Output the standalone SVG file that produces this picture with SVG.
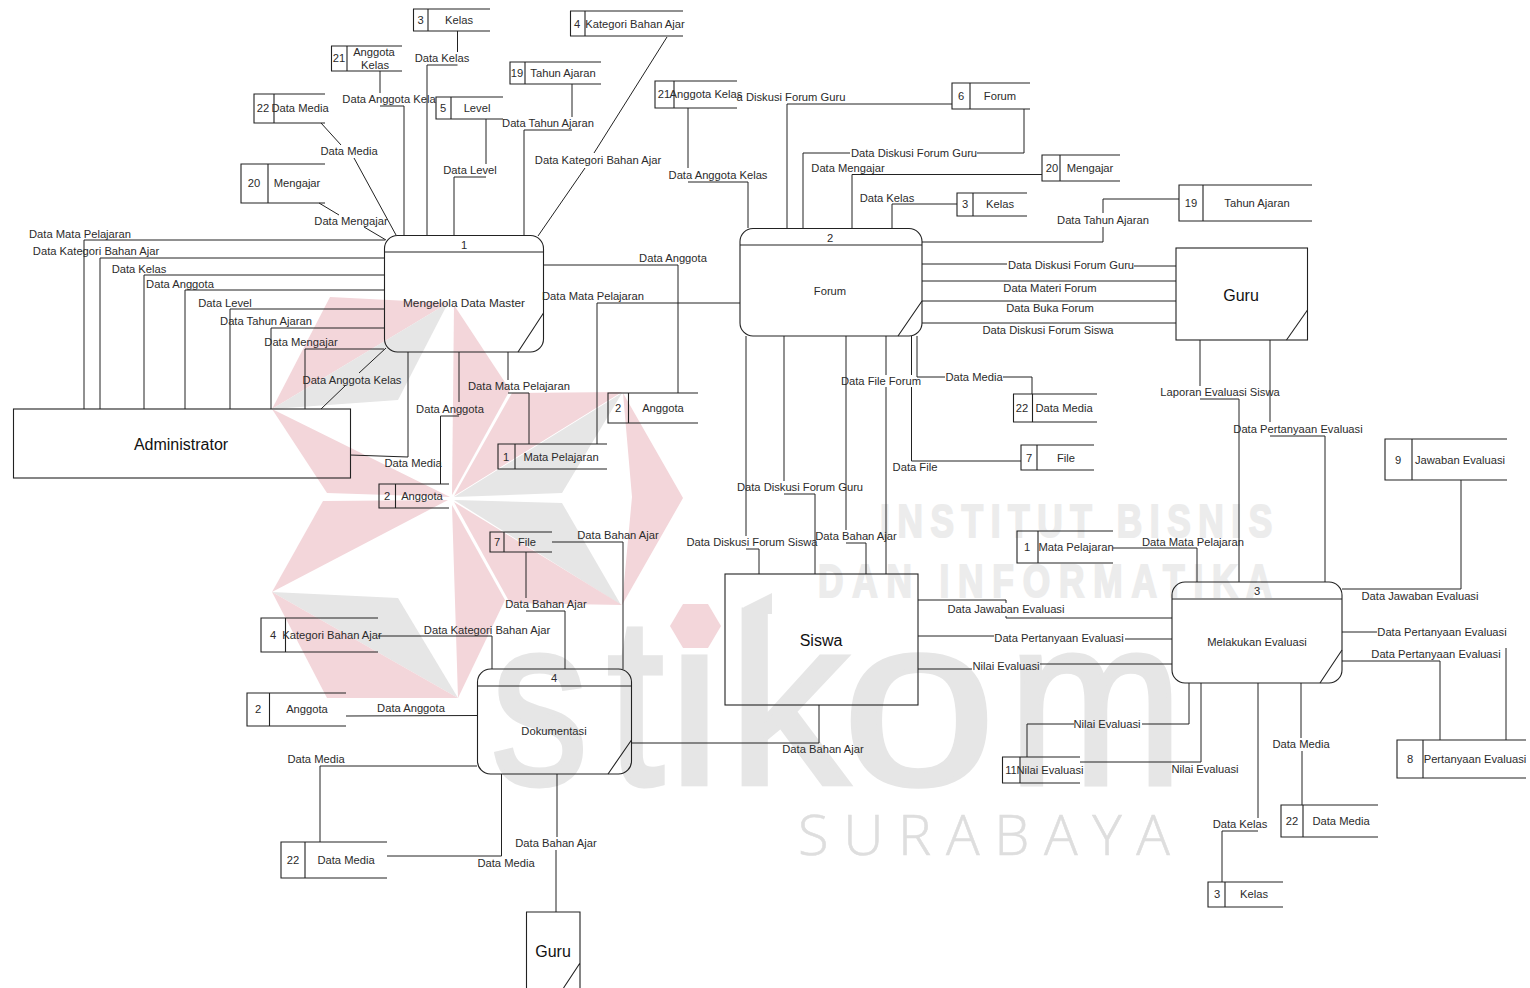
<svg xmlns="http://www.w3.org/2000/svg" width="1530" height="988" viewBox="0 0 1530 988">
<style>
text{font-family:"Liberation Sans",Arial,sans-serif;font-size:11.2px;fill:#2b2b2b;text-anchor:middle;dominant-baseline:central}
.n{fill:none;stroke:#222;stroke-width:1.1}
.c{fill:none;stroke:#222;stroke-width:1}
.big{font-size:16px;fill:#111}
.p{fill:#f3d6da}.g{fill:#e6e6e6}
.w1{font-weight:bold;font-size:47px;fill:#ececec;stroke:#ececec;stroke-width:2;dominant-baseline:auto;text-anchor:start}
.w2{font-family:"Open Sans","Liberation Sans",sans-serif;font-weight:300;font-size:56px;fill:#dedede;stroke:#dedede;stroke-width:.6;dominant-baseline:auto;text-anchor:start}
.w3{font-size:240px;fill:#e6e6e6;stroke:#e6e6e6;stroke-width:5;dominant-baseline:auto;text-anchor:start}
</style>
<rect width="1530" height="988" fill="#fff"/>
<g id="watermark">
<polygon class="p" points="330,297 448,303 272,409"/>
<polygon class="g" points="272,409 448,303 398,400"/>
<polygon class="p" points="272,409 327,493 450,497"/>
<polygon class="p" points="454,305 510,390 452,495"/>
<polygon class="p" points="512,393 622,392 454,496"/>
<polygon class="g" points="622,393 562,493 454,497"/>
<polygon class="p" points="623,393 683,498 622,605 632,497"/>
<polygon class="g" points="454,500 562,503 621,605"/>
<polygon class="p" points="454,502 622,605 510,603"/>
<polygon class="p" points="452,505 505,600 458,698"/>
<polygon class="g" points="272,592 398,598 458,698"/>
<polygon class="p" points="272,592 458,698 327,698"/>
<polygon class="p" points="448,500 323,501 272,592"/>
<text class="w1" transform="translate(880,537) scale(.75,1)" textLength="523" lengthAdjust="spacing">INSTITUT BISNIS</text>
<text class="w1" transform="translate(818,597) scale(.75,1)" textLength="605" lengthAdjust="spacing">DAN INFORMATIKA</text>
<text class="w2" x="798" y="855" textLength="372" lengthAdjust="spacing">SURABAYA</text>
<text class="w3" y="784"><tspan x="491" textLength="97" lengthAdjust="spacingAndGlyphs">s</tspan><tspan x="607" textLength="57" lengthAdjust="spacingAndGlyphs">t</tspan><tspan x="668" textLength="53" lengthAdjust="spacingAndGlyphs">i</tspan><tspan x="728" textLength="120" lengthAdjust="spacingAndGlyphs">k</tspan><tspan x="842" textLength="154" lengthAdjust="spacingAndGlyphs">o</tspan><tspan x="1008" textLength="175" lengthAdjust="spacingAndGlyphs">m</tspan></text>
<polygon class="g" points="744,614 772,614 772,593 744,607"/>
<polygon class="p" points="670,626 683,604 708,604 721,626 708,648 683,648"/>
</g>
<g id="connectors">
<path class="c" d="M84,409V240H385M100,409V258H384M144,409V275H384M185,409V290H384M230,409V309H384M271,409V328H384M305,409V349H384"/>
<path class="c" d="M321,409L346,385M359,373L386,348M350,455L408,457V352M459,352V402M459,416H440.500V484M508,352V380M508,393H529V444"/>
<path class="c" d="M544,265H678V393M597,444V303H740"/>
<path class="c" d="M319,203L339,215M364,227L386,240M321,123L341,145M354,158L396,235M380,71V93M380,106H404V235M457.500,31V52M457.500,65H427V235M486,119V164M486,177H454V235M572,84V117M572,130H524V235M667,37L594,153M585,168L538,236"/>
<path class="c" d="M688,108V168M688,182H748V228M787,228V104H952M1024,109V153H977M850,153H803V228M1042,174.500H852V228M957,204H892V228M1179,199H1103V213M1103,227V242H922"/>
<path class="c" d="M922,264H1007M1134,266H1176M922,281H1176M922,301H1176M922,323H1176"/>
<path class="c" d="M746,336V536M746,549H759V574M784,336V481M784,494H815V574M846,336V530M846,543H866V574M886,336V375M886,387V574M911.500,336V375M911.500,387V461H1021M917,336V377H945M1003,377H1032V394"/>
<path class="c" d="M1200,340V386M1200,399H1239V582M1270,340V422M1270,436H1325V582"/>
<path class="c" d="M1113,548H1197V582M1342,589H1461V480M1342,632H1377M1506,648V740M1342,661H1440V740M1189,683V724H1142M1074,724H1027V757M1201,683V762H1080M1258,683V818M1258,831H1222V882M1301,683V738M1302,751V805"/>
<path class="c" d="M918,600H1006V603M1006,616V618H1172M918,636H994M1125,639H1172M918,669H972M1040,664H1172"/>
<path class="c" d="M378,636H492V669M526,552V598M526,611H565V669M552,542H623V669M346,716L477,715.500M320,842V766H477M387,856H501.500V774M557,774V837M556,850V912M632,743H819V705"/>
<text x="80" y="234">Data Mata Pelajaran</text>
<text x="96" y="251">Data Kategori Bahan Ajar</text>
<text x="139" y="269">Data Kelas</text>
<text x="180" y="284">Data Anggota</text>
<text x="225" y="303">Data Level</text>
<text x="266" y="321">Data Tahun Ajaran</text>
<text x="301" y="342">Data Mengajar</text>
<text x="352" y="380">Data Anggota Kelas</text>
<text x="413" y="463">Data Media</text>
<text x="450" y="409">Data Anggota</text>
<text x="519" y="386">Data Mata Pelajaran</text>
<text x="673" y="258">Data Anggota</text>
<text x="593" y="296">Data Mata Pelajaran</text>
<text x="351" y="221">Data Mengajar</text>
<text x="349" y="151">Data Media</text>
<text x="389" y="99">Data Anggota Kela</text>
<text x="442" y="58">Data Kelas</text>
<text x="470" y="170">Data Level</text>
<text x="548" y="123">Data Tahun Ajaran</text>
<text x="598" y="160">Data Kategori Bahan Ajar</text>
<text x="718" y="175">Data Anggota Kelas</text>
<text x="791" y="97">a Diskusi Forum Guru</text>
<text x="914" y="153">Data Diskusi Forum Guru</text>
<text x="848" y="168">Data Mengajar</text>
<text x="887" y="198">Data Kelas</text>
<text x="1103" y="220">Data Tahun Ajaran</text>
<text x="1071" y="265">Data Diskusi Forum Guru</text>
<text x="1050" y="288">Data Materi Forum</text>
<text x="1050" y="308">Data Buka Forum</text>
<text x="1048" y="330">Data Diskusi Forum Siswa</text>
<text x="752" y="542">Data Diskusi Forum Siswa</text>
<text x="800" y="487">Data Diskusi Forum Guru</text>
<text x="856" y="536">Data Bahan Ajar</text>
<text x="881" y="381">Data File Forum</text>
<text x="974" y="377">Data Media</text>
<text x="915" y="467">Data File</text>
<text x="1220" y="392">Laporan Evaluasi Siswa</text>
<text x="1298" y="429">Data Pertanyaan Evaluasi</text>
<text x="1193" y="542">Data Mata Pelajaran</text>
<text x="1420" y="596">Data Jawaban Evaluasi</text>
<text x="1442" y="632">Data Pertanyaan Evaluasi</text>
<text x="1436" y="654">Data Pertanyaan Evaluasi</text>
<text x="1107" y="724">Nilai Evaluasi</text>
<text x="1205" y="769">Nilai Evaluasi</text>
<text x="1240" y="824">Data Kelas</text>
<text x="1301" y="744">Data Media</text>
<text x="1006" y="609">Data Jawaban Evaluasi</text>
<text x="1059" y="638">Data Pertanyaan Evaluasi</text>
<text x="1006" y="666">Nilai Evaluasi</text>
<text x="487" y="630">Data Kategori Bahan Ajar</text>
<text x="546" y="604">Data Bahan Ajar</text>
<text x="618" y="535">Data Bahan Ajar</text>
<text x="411" y="708">Data Anggota</text>
<text x="316" y="759">Data Media</text>
<text x="506" y="863">Data Media</text>
<text x="556" y="843">Data Bahan Ajar</text>
<text x="823" y="749">Data Bahan Ajar</text>
</g>
<g id="p1"><rect class="n" x="384.500" y="235.500" width="159" height="116.500" rx="13"/><path class="n" d="M384.500,252H543.500M518,352L543.500,313"/><text x="464" y="245">1</text><text x="464" y="303" style="font-size:11.800px">Mengelola Data Master</text></g>
<g id="p2"><rect class="n" x="740" y="228.500" width="182" height="107.500" rx="13"/><path class="n" d="M740,245H922M898,336L922,301"/><text x="830" y="238">2</text><text x="830" y="291">Forum</text></g>
<g id="p3"><rect class="n" x="1172" y="582" width="170" height="101" rx="13"/><path class="n" d="M1172,599H1342M1320,683L1342,650"/><text x="1257" y="591">3</text><text x="1257" y="642">Melakukan Evaluasi</text></g>
<g id="p4"><rect class="n" x="477.500" y="669" width="154" height="105" rx="13"/><path class="n" d="M477.500,686H631.500M608,774L631.500,740"/><text x="554" y="678">4</text><text x="554" y="731">Dokumentasi</text></g>
<g id="e-admin"><rect class="n" x="13.500" y="409" width="337" height="69"/><text class="big" x="181" y="444">Administrator</text></g>
<g id="e-guru1"><rect class="n" x="1176" y="248" width="131.500" height="92"/><path class="n" d="M1286.500,340L1307.500,310"/><text class="big" x="1241" y="295">Guru</text></g>
<g id="e-siswa"><rect class="n" x="725" y="574" width="193" height="131"/><text class="big" x="821" y="640">Siswa</text></g>
<g id="e-guru2"><path class="n" d="M526.500,988V912H580V988M580,963L563.500,988"/><text class="big" x="553" y="951">Guru</text></g>
<g id="s1"><path class="n" d="M490,9H413.500V31H490M428,9V31"/><text x="420.500" y="20">3</text><text x="459" y="20">Kelas</text></g>
<g id="s2"><path class="n" d="M683,11H570.500V36H683M585,11V36"/><text x="577" y="24">4</text><text x="635" y="24">Kategori Bahan Ajar</text></g>
<g id="s3"><path class="n" d="M402,46H331.500V71H402M347,46V71"/><text x="339" y="58">21</text><text x="374" y="52">Anggota</text><text x="375" y="65">Kelas</text></g>
<g id="s4"><path class="n" d="M601,62H510V84H601M525,62V84"/><text x="517" y="73">19</text><text x="563" y="73">Tahun Ajaran</text></g>
<g id="s5"><path class="n" d="M503,97H436V119H503M451,97V119"/><text x="443" y="108">5</text><text x="477" y="108">Level</text></g>
<g id="s6"><path class="n" d="M325,94H254V123H325M274,94V123"/><text x="263" y="108">22</text><text x="300" y="108">Data Media</text></g>
<g id="s7"><path class="n" d="M325,164H241V203H325M268,164V203"/><text x="254" y="183">20</text><text x="297" y="183">Mengajar</text></g>
<g id="s8"><path class="n" d="M737,81H655V108H737M674,81V108"/><text x="664" y="94">21</text><text x="706" y="94">Anggota Kelas</text></g>
<g id="s9"><path class="n" d="M1030,83H952V109H1030M970,83V109"/><text x="961" y="96">6</text><text x="1000" y="96">Forum</text></g>
<g id="s10"><path class="n" d="M1120,155H1042V181H1120M1060,155V181"/><text x="1052" y="168">20</text><text x="1090" y="168">Mengajar</text></g>
<g id="s11"><path class="n" d="M1027,193H957V216H1027M973,193V216"/><text x="965" y="204">3</text><text x="1000" y="204">Kelas</text></g>
<g id="s12"><path class="n" d="M1312,185H1179V221H1312M1203,185V221"/><text x="1191" y="203">19</text><text x="1257" y="203">Tahun Ajaran</text></g>
<g id="s13"><path class="n" d="M1097,394H1013.500V422H1097M1032.500,394V422"/><text x="1022" y="408">22</text><text x="1064" y="408">Data Media</text></g>
<g id="s14"><path class="n" d="M1094,445H1021V470H1094M1037,445V470"/><text x="1029" y="458">7</text><text x="1066" y="458">File</text></g>
<g id="s15"><path class="n" d="M698,393H608V423H698M628.500,393V423"/><text x="618" y="408">2</text><text x="663" y="408">Anggota</text></g>
<g id="s16"><path class="n" d="M607,444H498V469H607M515,444V469"/><text x="506" y="457">1</text><text x="561" y="457">Mata Pelajaran</text></g>
<g id="s17"><path class="n" d="M449,484H379V508H449M395.500,484V508"/><text x="387" y="496">2</text><text x="422" y="496">Anggota</text></g>
<g id="s18"><path class="n" d="M552,532H490V552H552M504,532V552"/><text x="497" y="542">7</text><text x="527" y="542">File</text></g>
<g id="s19"><path class="n" d="M378,618H261V652H378M285.500,618V652"/><text x="273" y="635">4</text><text x="332" y="635">Kategori Bahan Ajar</text></g>
<g id="s20"><path class="n" d="M346,693H247V726H346M269.500,693V726"/><text x="258" y="709">2</text><text x="307" y="709">Anggota</text></g>
<g id="s21"><path class="n" d="M387,842H281V878H387M305,842V878"/><text x="293" y="860">22</text><text x="346" y="860">Data Media</text></g>
<g id="s22"><path class="n" d="M1113,531H1017V563H1113M1038,531V563"/><text x="1027" y="547">1</text><text x="1076" y="547">Mata Pelajaran</text></g>
<g id="s23"><path class="n" d="M1507,439H1385V480H1507M1412,439V480"/><text x="1398" y="460">9</text><text x="1460" y="460">Jawaban Evaluasi</text></g>
<g id="s24"><path class="n" d="M1526,740H1397V778H1526M1423,740V778"/><text x="1410" y="759">8</text><text x="1475" y="759">Pertanyaan Evaluasi</text></g>
<g id="s25"><path class="n" d="M1080,757H1002.500V783H1080M1020,757V783"/><text x="1011" y="770">11</text><text x="1050" y="770">Nilai Evaluasi</text></g>
<g id="s26"><path class="n" d="M1378,805H1281V837H1378M1303,805V837"/><text x="1292" y="821">22</text><text x="1341" y="821">Data Media</text></g>
<g id="s27"><path class="n" d="M1283,882H1208V907H1283M1225,882V907"/><text x="1217" y="894">3</text><text x="1254" y="894">Kelas</text></g>
</svg>
